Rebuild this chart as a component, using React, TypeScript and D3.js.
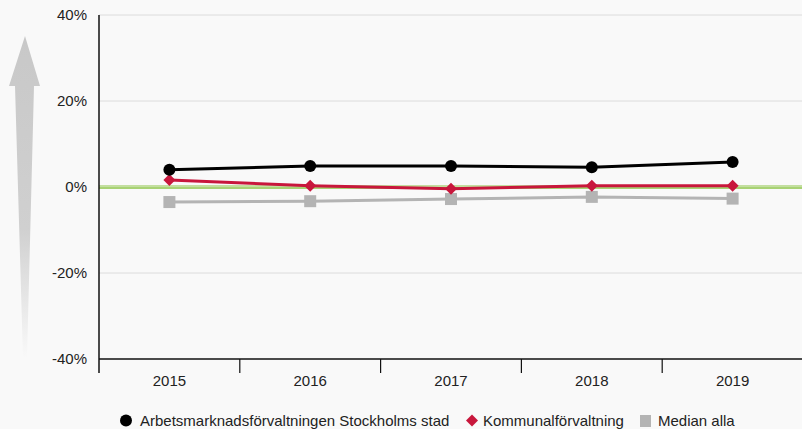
import React from "react";
import * as d3 from "d3";

const years = ["2015", "2016", "2017", "2018", "2019"];
const arbetsmarknad = [4.0, 4.9, 4.9, 4.6, 5.8];
const kommunal = [1.6, 0.3, -0.4, 0.3, 0.3];
const median = [-3.5, -3.3, -2.8, -2.3, -2.7];
const yTicks = [40, 20, 0, -20, -40];
const legendLabels = ["Arbetsmarknadsförvaltningen Stockholms stad", "Kommunalförvaltning", "Median alla"];

const W = 802, H = 429;
const left = 99, right = 802, top = 15, bottom = 359;

export default function App() {
  const x = d3.scaleBand<string>().domain(years).range([left, right + 1]);
  const y = d3.scaleLinear().domain([-40, 40]).range([bottom, top]);
  const cx = (d: string) => (x(d) as number) + x.bandwidth() / 2;
  const line = d3.line<[string, number]>().x(d => cx(d[0])).y(d => y(d[1]));
  const z = (arr: number[]) => years.map((yr, i) => [yr, arr[i]] as [string, number]);
  const font = "Liberation Sans, Arial, sans-serif";
  const diamond = (px: number, py: number, r: number) => `M${px},${py - r}L${px + r},${py}L${px},${py + r}L${px - r},${py}Z`;
  const fs = 15;

  return (
    <svg width={W} height={H} style={{ position: "absolute", left: 0, top: 0, background: "#f9f9f9" }} fontFamily={font}>
      <defs>
        <linearGradient id="arrowGrad" x1="0" y1="0" x2="0" y2="1">
          <stop offset="0" stopColor="#c8c8c8" />
          <stop offset="0.6" stopColor="#d0d0d0" />
          <stop offset="1" stopColor="#f9f9f9" />
        </linearGradient>
      </defs>
      <rect x={0} y={0} width={W} height={H} fill="#f9f9f9" />
      {/* arrow */}
      <path d="M25,36 L40,86 L34,86 L27,358 L23,358 L15,86 L9,86 Z" fill="url(#arrowGrad)" />
      {/* grid */}
      {yTicks.filter(t => t !== -40 && t !== 0).map(t => (
        <line key={t} x1={left} x2={right} y1={y(t)} y2={y(t)} stroke="#dcdcdc" strokeWidth={1} />
      ))}
      {/* zero green lines */}
      <line x1={left} x2={right} y1={y(0) - 1} y2={y(0) - 1} stroke="#c3df9f" strokeWidth={2} />
      <line x1={left} x2={right} y1={y(0) + 1} y2={y(0) + 1} stroke="#8dc447" strokeWidth={1.5} />
      {/* y labels */}
      {yTicks.map(t => (
        <text key={t} x={87} y={y(t)} dy="0.35em" textAnchor="end" fontSize={fs} fill="#222">{t}%</text>
      ))}
      {/* axes */}
      <line x1={left} x2={left} y1={top} y2={bottom + 14} stroke="#111" strokeWidth={1.5} />
      <line x1={left} x2={right} y1={bottom} y2={bottom} stroke="#111" strokeWidth={1.5} />
      {years.slice(1).map(yr => (
        <line key={yr} x1={x(yr) as number} x2={x(yr) as number} y1={bottom} y2={bottom + 14} stroke="#111" strokeWidth={1.2} />
      ))}
      {years.map(yr => (
        <text key={yr} x={cx(yr)} y={bottom + 22} dy="0.35em" textAnchor="middle" fontSize={fs} fill="#222">{yr}</text>
      ))}
      {/* series */}
      <path d={line(z(median)) as string} fill="none" stroke="#b4b4b4" strokeWidth={3} />
      {z(median).map(d => (
        <rect key={d[0]} x={cx(d[0]) - 6} y={y(d[1]) - 6} width={12} height={12} fill="#b4b4b4" />
      ))}
      <path d={line(z(kommunal)) as string} fill="none" stroke="#c8173c" strokeWidth={3} />
      {z(kommunal).map(d => (
        <path key={d[0]} d={diamond(cx(d[0]), y(d[1]), 6)} fill="#c8173c" />
      ))}
      <path d={line(z(arbetsmarknad)) as string} fill="none" stroke="#000" strokeWidth={3} />
      {z(arbetsmarknad).map(d => (
        <circle key={d[0]} cx={cx(d[0])} cy={y(d[1])} r={6} fill="#000" />
      ))}
      {/* legend */}
      <circle cx={126} cy={420.5} r={6} fill="#000" />
      <text x={140} y={420.5} dy="0.35em" fontSize={fs} fill="#222">{legendLabels[0]}</text>
      <path d={diamond(472, 420.5, 6)} fill="#c8173c" />
      <text x={483} y={420.5} dy="0.35em" fontSize={fs} fill="#222">{legendLabels[1]}</text>
      <rect x={640} y={415} width={11} height={12} fill="#b4b4b4" />
      <text x={658} y={420.5} dy="0.35em" fontSize={fs} fill="#222">{legendLabels[2]}</text>
    </svg>
  );
}
